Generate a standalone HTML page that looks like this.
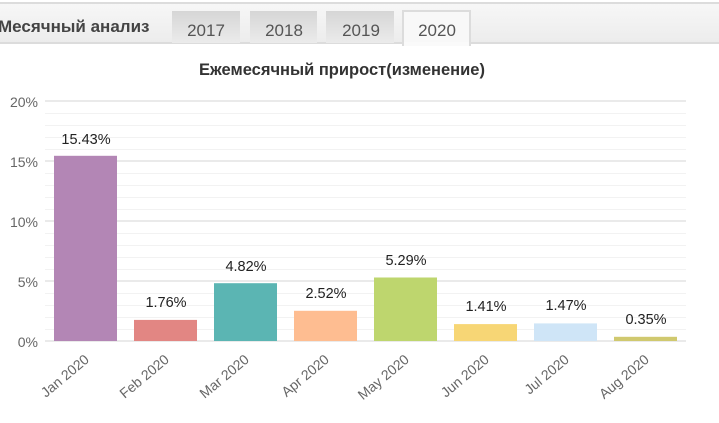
<!DOCTYPE html>
<html><head><meta charset="utf-8"><style>
body{margin:0;width:719px;height:418px;background:#fff;overflow:hidden;font-family:"Liberation Sans",sans-serif}
</style></head><body>
<svg width="719" height="418" xmlns="http://www.w3.org/2000/svg">
<defs>
<linearGradient id="tb" x1="0" y1="0" x2="0" y2="1"><stop offset="0" stop-color="#f7f7f7"/><stop offset="1" stop-color="#ececec"/></linearGradient>
<linearGradient id="tab" x1="0" y1="0" x2="0" y2="1"><stop offset="0" stop-color="#d6d6d6"/><stop offset="1" stop-color="#ebebeb"/></linearGradient>
</defs>
<rect x="0" y="3" width="719" height="40" fill="url(#tb)"/>
<rect x="0" y="2" width="719" height="2" fill="#dcdcdc"/>
<rect x="0" y="42" width="719" height="2" fill="#dcdcdc"/>
<text x="-2" y="32" font-size="17" font-weight="bold" fill="#444">Месячный анализ</text>
<rect x="172" y="11" width="68" height="32" fill="url(#tab)"/>
<rect x="250" y="11" width="67" height="32" fill="url(#tab)"/>
<rect x="326" y="11" width="68" height="32" fill="url(#tab)"/>
<rect x="403" y="11" width="67" height="34" fill="#f8f8f8" stroke="#dcdcdc" stroke-width="2"/>
<rect x="404" y="42" width="65" height="4" fill="#fafafa"/>
<g font-size="17" fill="#555" text-anchor="middle">
<text x="206" y="36">2017</text><text x="284" y="36">2018</text><text x="361" y="36">2019</text><text x="437" y="36">2020</text>
</g>
<text x="342" y="75" font-size="16.5" font-weight="bold" fill="#333" text-anchor="middle">Ежемесячный прирост(изменение)</text>
<g stroke="#f2f2f2" stroke-width="1">
<line x1="45" x2="686" y1="113.5" y2="113.5"/><line x1="45" x2="686" y1="125.5" y2="125.5"/><line x1="45" x2="686" y1="137.5" y2="137.5"/><line x1="45" x2="686" y1="149.5" y2="149.5"/>
<line x1="45" x2="686" y1="173.5" y2="173.5"/><line x1="45" x2="686" y1="185.5" y2="185.5"/><line x1="45" x2="686" y1="197.5" y2="197.5"/><line x1="45" x2="686" y1="209.5" y2="209.5"/>
<line x1="45" x2="686" y1="233.5" y2="233.5"/><line x1="45" x2="686" y1="245.5" y2="245.5"/><line x1="45" x2="686" y1="257.5" y2="257.5"/><line x1="45" x2="686" y1="269.5" y2="269.5"/>
<line x1="45" x2="686" y1="293.5" y2="293.5"/><line x1="45" x2="686" y1="305.5" y2="305.5"/><line x1="45" x2="686" y1="317.5" y2="317.5"/><line x1="45" x2="686" y1="329.5" y2="329.5"/>
</g>
<g stroke="#e4e4e4" stroke-width="1.5">
<line x1="45" x2="686" y1="101" y2="101"/><line x1="45" x2="686" y1="161" y2="161"/><line x1="45" x2="686" y1="221" y2="221"/><line x1="45" x2="686" y1="281" y2="281"/><line x1="45" x2="686" y1="341" y2="341"/>
</g>
<g font-size="14" fill="#666" text-anchor="end">
<text x="38" y="107">20%</text><text x="38" y="167">15%</text><text x="38" y="227">10%</text><text x="38" y="287">5%</text><text x="38" y="347">0%</text>
</g>
<rect x="54" y="155.8" width="63" height="185.2" fill="#b386b5"/>
<rect x="134" y="319.9" width="63" height="21.1" fill="#e28683"/>
<rect x="214" y="283.2" width="63" height="57.8" fill="#5bb5b3"/>
<rect x="294" y="310.8" width="63" height="30.2" fill="#febd91"/>
<rect x="374" y="277.5" width="63" height="63.5" fill="#bed66e"/>
<rect x="454" y="324.1" width="63" height="16.9" fill="#f7d675"/>
<rect x="534" y="323.4" width="63" height="17.6" fill="#cfe5f7"/>
<rect x="614" y="336.8" width="63" height="4.2" fill="#d0c96f"/>
<g font-size="14.5" fill="#222" text-anchor="middle">
<text x="86" y="144">15.43%</text><text x="166" y="307">1.76%</text><text x="246" y="271">4.82%</text><text x="326" y="298">2.52%</text>
<text x="406" y="265">5.29%</text><text x="486" y="311">1.41%</text><text x="566" y="310">1.47%</text><text x="646" y="324">0.35%</text>
</g>
<g font-size="14" fill="#666" text-anchor="end">
<text transform="translate(90,361) rotate(-40)">Jan 2020</text>
<text transform="translate(170,361) rotate(-40)">Feb 2020</text>
<text transform="translate(250,361) rotate(-40)">Mar 2020</text>
<text transform="translate(330,361) rotate(-40)">Apr 2020</text>
<text transform="translate(410,361) rotate(-40)">May 2020</text>
<text transform="translate(490,361) rotate(-40)">Jun 2020</text>
<text transform="translate(570,361) rotate(-40)">Jul 2020</text>
<text transform="translate(650,361) rotate(-40)">Aug 2020</text>
</g>
</svg>
</body></html>
